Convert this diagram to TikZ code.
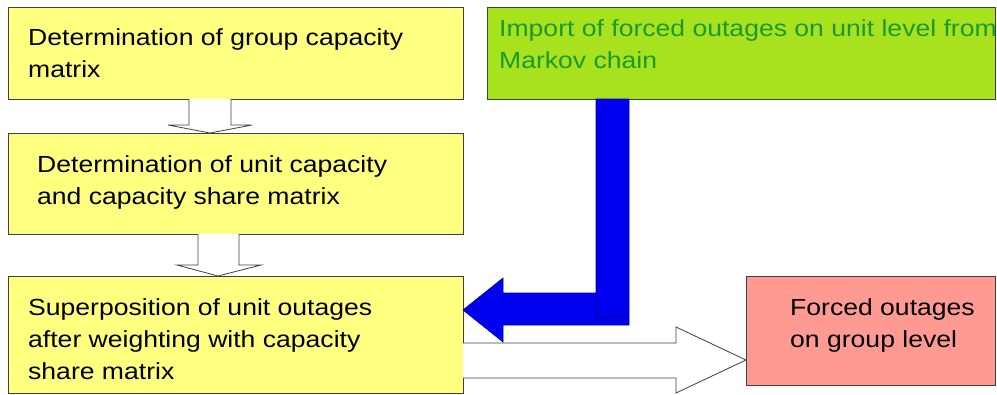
\documentclass[tikz,border=0pt]{standalone}
\usepackage{fontspec}
\setmainfont{Liberation Sans}[FakeStretch=1.14]
\definecolor{boxyellow}{HTML}{FFFF80}
\definecolor{boxgreen}{HTML}{A8E21E}
\definecolor{txtgreen}{HTML}{1A9A2A}
\definecolor{boxred}{HTML}{FF9A92}
\definecolor{arrowblue}{HTML}{0000F0}
\definecolor{edgegray}{HTML}{404040}
\begin{document}
\begin{tikzpicture}[x=1pt,y=-1pt,
  box/.style={draw=edgegray, line width=0.9pt, inner sep=0pt, outer sep=0pt, anchor=north west},
  txt/.style={anchor=base west, font=\fontsize{23.3}{32}\selectfont, align=left, inner sep=0pt},
  hollow/.style={draw=edgegray, fill=white, line width=0.8pt, line join=miter},
  bluearrow/.style={fill=arrowblue, draw=arrowblue!70!black, line width=0.6pt, line join=miter}
]
\clip (0,0) rectangle (997,394);
\fill[white] (0,0) rectangle (997,394);

% boxes
\node[box, fill=boxyellow, minimum width=455pt, minimum height=92pt]  (b1) at (8,7) {};
\node[box, fill=boxyellow, minimum width=455pt, minimum height=101pt] (b2) at (8,133) {};
\node[box, fill=boxyellow, minimum width=455pt, minimum height=117pt] (b3) at (8,276) {};
\node[box, fill=boxgreen,  minimum width=508pt, minimum height=92pt]  (g)  at (487,7) {};
\node[box, fill=boxred,    minimum width=249pt, minimum height=109pt] (r)  at (746,276) {};

% texts (anchor = baseline of last line)
\node[txt] (t1) at (28,77)  {Determination of group capacity\\matrix};
\node[txt] (t2) at (37,204) {Determination of unit capacity\\and capacity share matrix};
\node[txt] (t3) at (28,379) {Superposition of unit outages\\after weighting with capacity\\share matrix};
\node[txt, text=txtgreen] (t4) at (499,68) {Import of forced outages on unit level from\\Markov chain};
\node[txt] (t5) at (790,347) {Forced outages\\on group level};

% hollow down arrows
\filldraw[hollow] (189,0 |- b1.south) -- (189,125) -- (168,125) -- (210,0 |- b2.north)
  -- (252,125) -- (231,125) -- (231,0 |- b1.south);
\filldraw[hollow] (198,0 |- b2.south) -- (198,265) -- (177,265) -- (218,0 |- b3.north)
  -- (261,265) -- (239,265) -- (239,0 |- b2.south);

% hollow right arrow to red box
\filldraw[hollow] (b3.east |- 0,343) -- (676,343) -- (676,327) -- (r.west |- 0,360)
  -- (676,393) -- (676,378) -- (b3.east |- 0,378);

% blue elbow arrow from green box to box 3
\filldraw[bluearrow] (596,0 |- g.south) -- (629,0 |- g.south) -- (629,325) -- (503,325)
  -- (503,342) -- (b3.east |- 0,310) -- (503,278) -- (503,293) -- (596,293) -- cycle;
\draw[arrowblue!60!black, line width=0.6pt] (596,293) -- (596,316) -- (629,316);
\end{tikzpicture}
\end{document}
